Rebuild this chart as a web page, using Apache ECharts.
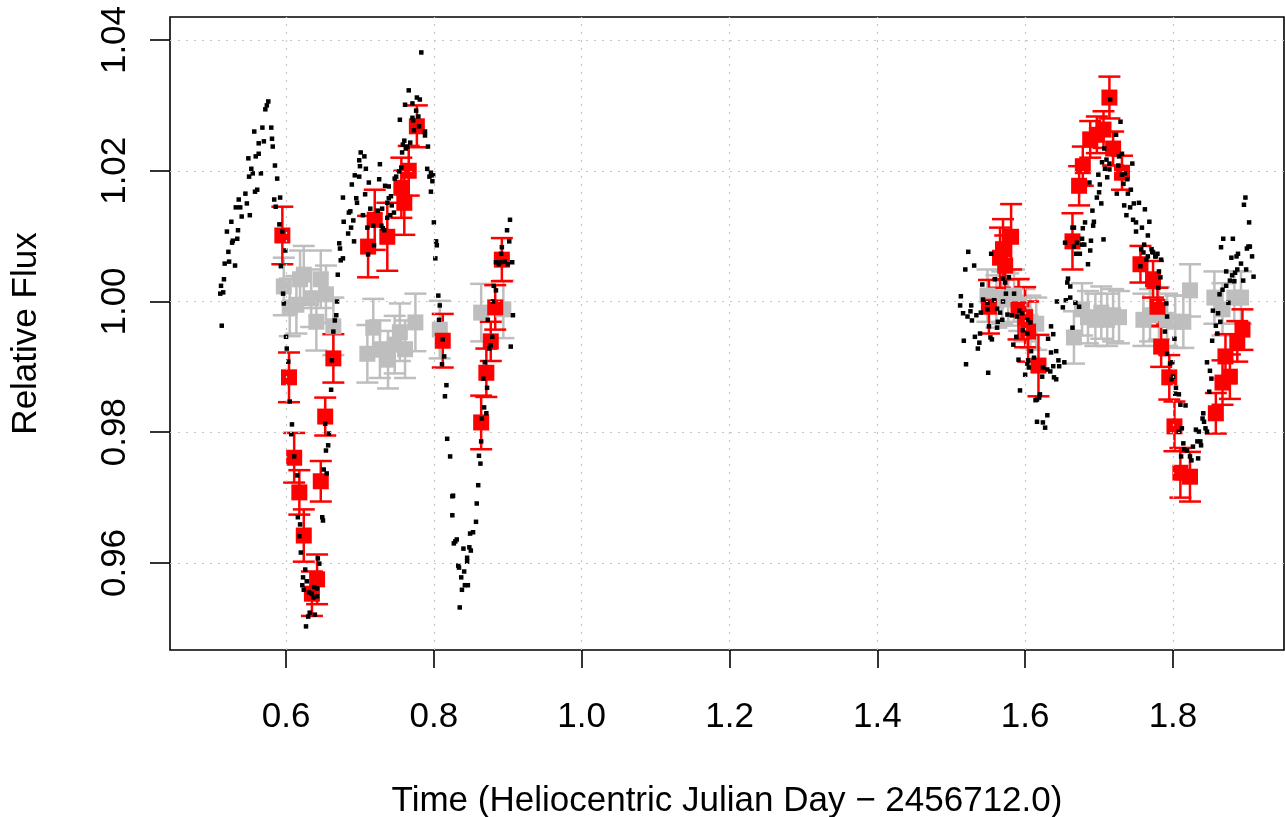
<!DOCTYPE html>
<html lang="en">
<head>
    <meta charset="UTF-8"/>
    <script src="https://cdn.jsdelivr.net/npm/echarts@6/dist/echarts.min.js"></script>
    <title>light curve</title>
    <style>
        html, body { margin: 0; padding: 0; background: #fff; }
        #main { width: 1285px; height: 817px; }
    </style>
</head>
<body>
<div id="main"></div>
<script type="text/javascript">
    // tick positions
    var xTicks = [0.6, 0.8, 1.0, 1.2, 1.4, 1.6, 1.8];
    var yTicks = [0.96, 0.98, 1.00, 1.02, 1.04];

    // unbinned photometry, [time, flux]
    var rawNight1 = [
        [0.576,1.0306],[0.574,1.0300],[0.572,1.0294],[0.568,1.0266],[0.580,1.0266],[0.557,1.0260],
        [0.581,1.0249],[0.570,1.0245],[0.563,1.0242],[0.582,1.0237],[0.563,1.0226],[0.559,1.0222],
        [0.549,1.0219],[0.585,1.0208],[0.553,1.0203],[0.555,1.0196],[0.550,1.0191],[0.566,1.0196],
        [0.588,1.0188],[0.561,1.0171],[0.558,1.0168],[0.545,1.0165],[0.592,1.0159],[0.584,1.0156],
        [0.536,1.0156],[0.547,1.0150],[0.586,1.0145],[0.538,1.0144],[0.532,1.0144],[0.540,1.0130],
        [0.551,1.0132],[0.526,1.0122],[0.591,1.0118],[0.535,1.0109],[0.520,1.0107],[0.534,1.0096],
        [0.528,1.0093],[0.527,1.0090],[0.595,1.0107],[0.522,1.0076],[0.599,1.0078],[0.523,1.0061],
        [0.517,1.0058],[0.531,1.0055],[0.593,1.0054],[0.516,1.0034],[0.512,1.0024],[0.515,1.0014],
        [0.511,1.0012],[0.596,1.0012],[0.597,0.9997],[0.513,0.9963],[0.600,0.9946],[0.601,0.9928],
        [0.603,0.9908],[0.605,0.9847],[0.608,0.9812],[0.607,0.9797],[0.611,0.9763],[0.615,0.9734],
        [0.616,0.9670],[0.619,0.9659],[0.618,0.9641],[0.620,0.9616],[0.626,0.9590],[0.623,0.9578],
        [0.628,0.9572],[0.622,0.9566],[0.624,0.9559],[0.631,0.9555],[0.635,0.9553],[0.638,0.9563],
        [0.642,0.9561],[0.637,0.9547],[0.642,0.9549],[0.632,0.9524],[0.630,0.9518],[0.639,0.9521],
        [0.627,0.9503],[0.643,0.9607],[0.645,0.9599],[0.649,0.9670],[0.650,0.9665],[0.651,0.9743],
        [0.655,0.9737],[0.654,0.9772],[0.657,0.9780],[0.658,0.9798],[0.653,0.9813],[0.661,0.9865],
        [0.662,0.9910],[0.664,0.9954],[0.666,0.9971],[0.668,0.9979],[0.669,1.0000],[0.670,1.0041],
        [0.674,1.0063],[0.677,1.0066],[0.673,1.0081],[0.672,1.0089],[0.684,1.0104],[0.688,1.0113],
        [0.678,1.0122],[0.685,1.0136],[0.677,1.0159],[0.692,1.0092],[0.691,1.0124],[0.687,1.0138],
        [0.695,1.0158],[0.696,1.0151],[0.689,1.0179],[0.693,1.0193],[0.699,1.0191],[0.700,1.0207],
        [0.699,1.0216],[0.701,1.0228],[0.706,1.0222],[0.708,1.0203],[0.707,1.0164],[0.712,1.0182],
        [0.704,1.0132],[0.714,1.0142],[0.710,1.0113],[0.718,1.0116],[0.719,1.0086],[0.711,1.0072],
        [0.726,1.0187],[0.727,1.0210],[0.724,1.0139],[0.730,1.0142],[0.729,1.0116],[0.731,1.0112],
        [0.733,1.0109],[0.734,1.0177],[0.739,1.0176],[0.737,1.0151],[0.739,1.0158],[0.742,1.0161],
        [0.743,1.0147],[0.737,1.0128],[0.741,1.0132],[0.746,1.0136],[0.747,1.0188],[0.749,1.0191],
        [0.753,1.0199],[0.756,1.0205],[0.757,1.0228],[0.758,1.0240],[0.760,1.0246],[0.762,1.0234],
        [0.764,1.0237],[0.768,1.0243],[0.754,1.0278],[0.761,1.0301],[0.766,1.0323],[0.771,1.0303],
        [0.777,1.0312],[0.781,1.0309],[0.776,1.0292],[0.779,1.0283],[0.771,1.0281],[0.772,1.0277],
        [0.780,1.0268],[0.773,1.0262],[0.788,1.0260],[0.788,1.0254],[0.792,1.0237],[0.783,1.0381],
        [0.791,1.0203],[0.796,1.0197],[0.794,1.0191],[0.799,1.0193],[0.798,1.0184],[0.796,1.0168],
        [0.800,1.0121],[0.803,1.0092],[0.804,1.0086],[0.802,1.0066],[0.806,1.0009],[0.808,0.9994],
        [0.807,0.9972],[0.812,0.9942],[0.814,0.9916],[0.811,0.9904],[0.817,0.9872],[0.815,0.9855],
        [0.818,0.9790],[0.822,0.9763],[0.825,0.9702],[0.826,0.9703],[0.825,0.9673],[0.831,0.9636],
        [0.829,0.9633],[0.827,0.9630],[0.840,0.9622],[0.848,0.9624],[0.850,0.9619],[0.845,0.9608],
        [0.845,0.9602],[0.833,0.9596],[0.834,0.9593],[0.841,0.9587],[0.837,0.9578],[0.842,0.9566],
        [0.846,0.9566],[0.838,0.9559],[0.835,0.9532],[0.849,0.9645],[0.853,0.9647],[0.857,0.9663],
        [0.858,0.9691],[0.860,0.9719],[0.863,0.9752],[0.861,0.9764],[0.864,0.9786],[0.865,0.9821],
        [0.871,0.9829],[0.868,0.9838],[0.872,0.9868],[0.867,0.9882],[0.869,0.9907],[0.875,0.9928],
        [0.877,0.9933],[0.879,0.9946],[0.904,0.9931],[0.873,0.9972],[0.907,0.9979],[0.880,1.0000],
        [0.884,1.0017],[0.881,1.0024],[0.888,1.0057],[0.884,1.0060],[0.890,1.0060],[0.896,1.0061],
        [0.900,1.0057],[0.906,1.0060],[0.891,1.0073],[0.892,1.0083],[0.902,1.0092],[0.899,1.0109],
        [0.903,1.0125]
    ];
    var rawNight2 = [
        [1.523,1.0076],[1.519,1.0049],[1.531,1.0055],[1.554,1.0073],[1.542,1.0026],[1.513,1.0008],
        [1.512,0.9994],[1.527,0.9994],[1.543,1.0003],[1.549,0.9998],[1.558,1.0002],[1.570,1.0000],
        [1.559,1.0034],[1.570,1.0035],[1.578,1.0037],[1.573,1.0029],[1.574,1.0012],[1.585,1.0012],
        [1.516,0.9982],[1.522,0.9977],[1.526,0.9985],[1.528,0.9971],[1.534,0.9979],[1.540,0.9983],
        [1.549,0.9988],[1.562,0.9989],[1.566,0.9983],[1.563,0.9969],[1.569,0.9972],[1.576,0.9980],
        [1.582,0.9979],[1.589,0.9977],[1.592,0.9986],[1.596,0.9982],[1.603,0.9972],[1.607,0.9968],
        [1.597,0.9956],[1.603,0.9951],[1.588,0.9946],[1.584,0.9934],[1.551,0.9962],[1.562,0.9960],
        [1.539,0.9951],[1.532,0.9946],[1.553,0.9945],[1.555,0.9942],[1.538,0.9937],[1.536,0.9928],
        [1.517,0.9940],[1.635,0.9962],[1.638,0.9950],[1.631,0.9943],[1.635,0.9922],[1.642,0.9924],
        [1.608,0.9924],[1.612,0.9914],[1.604,0.9910],[1.591,0.9911],[1.603,0.9905],[1.605,0.9899],
        [1.624,0.9899],[1.630,0.9896],[1.634,0.9893],[1.638,0.9901],[1.646,0.9901],[1.645,0.9910],
        [1.653,0.9907],[1.600,0.9888],[1.623,0.9885],[1.639,0.9884],[1.642,0.9881],[1.520,0.9904],
        [1.550,0.9891],[1.593,0.9864],[1.620,0.9858],[1.619,0.9853],[1.616,0.9850],[1.614,0.9849],
        [1.630,0.9826],[1.616,0.9816],[1.624,0.9815],[1.627,0.9807],
        [1.715,1.0309],[1.729,1.0275],[1.723,1.0255],[1.707,1.0234],[1.731,1.0226],[1.727,1.0222],
        [1.710,1.0217],[1.704,1.0213],[1.714,1.0211],[1.745,1.0211],[1.726,1.0208],[1.708,1.0203],
        [1.714,1.0202],[1.735,1.0196],[1.731,1.0194],[1.699,1.0194],[1.711,1.0190],[1.738,1.0187],
        [1.687,1.0182],[1.701,1.0179],[1.733,1.0180],[1.743,1.0171],[1.700,1.0167],[1.724,1.0165],
        [1.739,1.0165],[1.697,1.0159],[1.703,1.0150],[1.734,1.0147],[1.747,1.0150],[1.754,1.0151],
        [1.742,1.0144],[1.691,1.0139],[1.762,1.0141],[1.737,1.0132],[1.746,1.0125],[1.750,1.0121],
        [1.768,1.0122],[1.681,1.0121],[1.693,1.0122],[1.692,1.0116],[1.678,1.0112],[1.758,1.0113],
        [1.750,1.0107],[1.664,1.0113],[1.666,1.0113],[1.766,1.0101],[1.706,1.0095],[1.689,1.0093],
        [1.670,1.0090],[1.677,1.0096],[1.677,1.0087],[1.680,1.0087],[1.666,1.0084],[1.654,1.0090],
        [1.761,1.0087],[1.757,1.0080],[1.772,1.0076],[1.779,1.0073],[1.760,1.0075],[1.776,1.0069],
        [1.766,1.0069],[1.784,1.0064],[1.688,1.0078],[1.669,1.0073],[1.674,1.0073],[1.764,1.0064],
        [1.685,1.0057],[1.756,1.0054],[1.781,1.0046],[1.783,1.0037],[1.658,1.0035],[1.657,1.0029],
        [1.661,1.0023],[1.780,1.0021],[1.661,1.0006],[1.655,1.0002],[1.643,1.0000],[1.668,0.9998],
        [1.673,0.9992],[1.651,0.9991],[1.791,0.9997],[1.792,0.9977],[1.789,0.9954],[1.664,0.9960],
        [1.792,0.9920],[1.771,1.0080],[1.773,1.0075],[1.777,1.0069],[1.802,0.9943],[1.799,0.9907],
        [1.796,0.9905],[1.800,0.9885],[1.798,0.9881],[1.804,0.9868],[1.803,0.9859],[1.808,0.9858],
        [1.810,0.9842],[1.817,0.9841],[1.841,0.9829],[1.840,0.9821],[1.842,0.9816],[1.844,0.9806],
        [1.831,0.9804],[1.835,0.9801],[1.846,0.9801],[1.812,0.9806],[1.808,0.9801],[1.814,0.9783],
        [1.827,0.9778],[1.833,0.9786],[1.837,0.9786],[1.838,0.9780],[1.815,0.9774],[1.819,0.9772],
        [1.823,0.9763],[1.811,0.9763],[1.825,0.9757],[1.834,0.9760],
        [1.868,1.0096],[1.881,1.0096],[1.865,1.0083],[1.902,1.0084],[1.904,1.0084],[1.900,1.0081],
        [1.888,1.0073],[1.886,1.0069],[1.879,1.0067],[1.907,1.0069],[1.892,1.0058],[1.887,1.0049],
        [1.899,1.0049],[1.872,1.0046],[1.884,1.0044],[1.880,1.0040],[1.909,1.0038],[1.877,1.0032],
        [1.883,1.0031],[1.895,1.0032],[1.872,1.0024],[1.867,1.0018],[1.863,1.0011],[1.875,0.9998],
        [1.854,0.9986],[1.861,0.9982],[1.864,0.9969],[1.858,0.9963],[1.860,0.9951],[1.853,0.9940],
        [1.846,0.9907],[1.850,0.9894],[1.852,0.9882],[1.849,0.9862],[1.898,1.0159],[1.896,1.0148],
        [1.903,1.0121]
    ];

    // binned target, [time, flux, error]
    var redBins = [
        [0.595,1.0101,0.0044],[0.604,0.9884,0.0038],[0.611,0.9761,0.0038],[0.618,0.9708,0.0034],
        [0.624,0.9642,0.0040],[0.642,0.9575,0.0038],[0.635,0.9553,0.0034],[0.647,0.9725,0.0031],
        [0.653,0.9824,0.0029],[0.664,0.9913,0.0037],[0.711,1.0084,0.0047],[0.720,1.0125,0.0046],
        [0.737,1.0099,0.0052],[0.756,1.0174,0.0046],[0.760,1.0151,0.0049],[0.766,1.0200,0.0038],
        [0.777,1.0268,0.0032],[0.812,0.9940,0.0041],[0.864,0.9815,0.0041],[0.871,0.9891,0.0037],
        [0.877,0.9939,0.0030],[0.883,0.9991,0.0034],[0.892,1.0064,0.0033],
        [1.551,0.9992,0.0041],[1.566,1.0067,0.0046],[1.570,1.0080,0.0046],[1.573,1.0055,0.0046],
        [1.581,1.0099,0.0050],[1.591,0.9988,0.0046],[1.600,0.9976,0.0046],[1.604,0.9954,0.0046],
        [1.618,0.9902,0.0047],[1.664,1.0092,0.0043],[1.673,1.0177,0.0030],[1.678,1.0207,0.0030],
        [1.688,1.0248,0.0028],[1.697,1.0255,0.0028],[1.706,1.0263,0.0028],[1.714,1.0312,0.0032],
        [1.719,1.0234,0.0026],[1.731,1.0197,0.0026],[1.756,1.0057,0.0028],[1.773,1.0034,0.0028],
        [1.779,0.9992,0.0029],[1.784,0.9931,0.0031],[1.795,0.9884,0.0034],[1.802,0.9809,0.0038],
        [1.810,0.9738,0.0038],[1.823,0.9732,0.0038],[1.858,0.9829,0.0031],[1.867,0.9876,0.0034],
        [1.877,0.9885,0.0034],[1.871,0.9916,0.0034],[1.887,0.9939,0.0031],[1.894,0.9957,0.0031]
    ];

    // binned comparison, [time, flux, error]
    var grayBins = [
        [0.597,1.0023,0.0044],[0.605,0.9991,0.0044],[0.614,0.9995,0.0044],[0.619,1.0034,0.0044],
        [0.624,1.0041,0.0044],[0.634,1.0005,0.0044],[0.641,0.9969,0.0044],[0.647,1.0034,0.0044],
        [0.654,1.0011,0.0044],[0.664,0.9962,0.0044],[0.710,0.9920,0.0044],[0.718,0.9960,0.0044],
        [0.727,0.9927,0.0044],[0.738,0.9911,0.0044],[0.747,0.9934,0.0044],[0.754,0.9953,0.0044],
        [0.761,0.9927,0.0044],[0.775,0.9968,0.0044],[0.808,0.9957,0.0044],[0.864,0.9983,0.0044],
        [0.894,0.9988,0.0044],
        [1.549,1.0009,0.0040],[1.561,1.0000,0.0040],[1.569,1.0006,0.0040],[1.577,1.0003,0.0040],
        [1.585,1.0009,0.0040],[1.592,0.9995,0.0040],[1.599,0.9979,0.0040],[1.607,0.9969,0.0040],
        [1.615,0.9966,0.0040],[1.666,0.9945,0.0040],[1.677,0.9988,0.0040],[1.685,0.9976,0.0040],
        [1.695,0.9972,0.0040],[1.703,0.9983,0.0040],[1.711,0.9972,0.0040],[1.719,0.9979,0.0040],
        [1.727,0.9976,0.0040],[1.760,0.9972,0.0040],[1.769,0.9979,0.0040],[1.781,0.9982,0.0040],
        [1.792,0.9972,0.0040],[1.803,0.9969,0.0040],[1.814,0.9969,0.0040],[1.823,1.0017,0.0040],
        [1.856,1.0006,0.0040],[1.867,0.9988,0.0040],[1.883,1.0006,0.0040],[1.892,1.0006,0.0040]
    ];

    var font = 'Liberation Sans, Arial, Helvetica, sans-serif';
    var myChart = echarts.init(document.getElementById('main'));

    // error bar with caps
    function errBar(color) {
        return function (params, api) {
            var x = api.value(0), y = api.value(1), e = api.value(2);
            var top = api.coord([x, y + e]);
            var bot = api.coord([x, y - e]);
            var hw = 11;
            var st = {stroke: color, lineWidth: 2.5};
            return {
                type: 'group',
                children: [
                    {type: 'line', shape: {x1: top[0], y1: top[1], x2: bot[0], y2: bot[1]}, style: st},
                    {type: 'line', shape: {x1: top[0] - hw, y1: top[1], x2: top[0] + hw, y2: top[1]}, style: st},
                    {type: 'line', shape: {x1: bot[0] - hw, y1: bot[1], x2: bot[0] + hw, y2: bot[1]}, style: st}
                ]
            };
        };
    }

    var gridLines = [];
    xTicks.forEach(function (v) { gridLines.push({xAxis: v}); });
    yTicks.forEach(function (v) { gridLines.push({yAxis: v}); });

    var option = {
        animation: false,
        backgroundColor: '#fff',
        grid: {
            left: 170, right: 1, top: 17, bottom: 167,
            outerBoundsMode: 'none', containLabel: false,
            show: true, borderColor: '#000', borderWidth: 1.6, backgroundColor: 'transparent'
        },
        xAxis: {
            type: 'value',
            min: 0.443, max: 1.9502,
            name: 'Time (Heliocentric Julian Day \u2212 2456712.0)',
            nameLocation: 'middle',
            nameGap: 134,
            nameTextStyle: {fontFamily: font, fontSize: 35, color: '#000'},
            axisLine: {show: false},
            axisTick: {show: true, customValues: xTicks, length: 18, lineStyle: {color: '#000', width: 1.6}},
            axisLabel: {
                show: true, customValues: xTicks, margin: 50,
                fontFamily: font, fontSize: 35, color: '#000',
                formatter: function (v) { return v.toFixed(1); }
            },
            splitLine: {show: false}
        },
        yAxis: {
            type: 'value',
            min: 0.94669, max: 1.04352,
            name: 'Relative Flux',
            nameLocation: 'middle',
            nameRotate: 90,
            nameGap: 126,
            nameTextStyle: {fontFamily: font, fontSize: 35, color: '#000'},
            axisLine: {show: false},
            axisTick: {show: true, customValues: yTicks, length: 20, lineStyle: {color: '#000', width: 1.6}},
            axisLabel: {
                show: true, customValues: yTicks, margin: 37, rotate: 90,
                fontFamily: font, fontSize: 35, color: '#000',
                formatter: function (v) { return v.toFixed(2); }
            },
            splitLine: {show: false}
        },
        series: [
            {
                type: 'scatter', data: [], silent: true,
                markLine: {
                    silent: true, symbol: 'none', label: {show: false},
                    lineStyle: {color: '#c8c8c8', type: [2, 6], width: 1.2, opacity: 1},
                    data: gridLines
                }
            },
            {type: 'custom', renderItem: errBar('#BEBEBE'), data: grayBins, encode: {x: 0, y: 1}, silent: true},
            {type: 'scatter', symbol: 'rect', symbolSize: 16, itemStyle: {color: '#BEBEBE', opacity: 1},
                data: grayBins.map(function (d) { return [d[0], d[1]]; }), silent: true},
            {type: 'custom', renderItem: errBar('#FF0000'), data: redBins, encode: {x: 0, y: 1}, silent: true},
            {type: 'scatter', symbol: 'rect', symbolSize: 16, itemStyle: {color: '#FF0000', opacity: 1},
                data: redBins.map(function (d) { return [d[0], d[1]]; }), silent: true},
            {type: 'scatter', symbol: 'rect', symbolSize: 4.5, itemStyle: {color: '#000', opacity: 1},
                data: rawNight1.concat(rawNight2), silent: true}
        ]
    };

    myChart.setOption(option);
</script>
</body>
</html>
